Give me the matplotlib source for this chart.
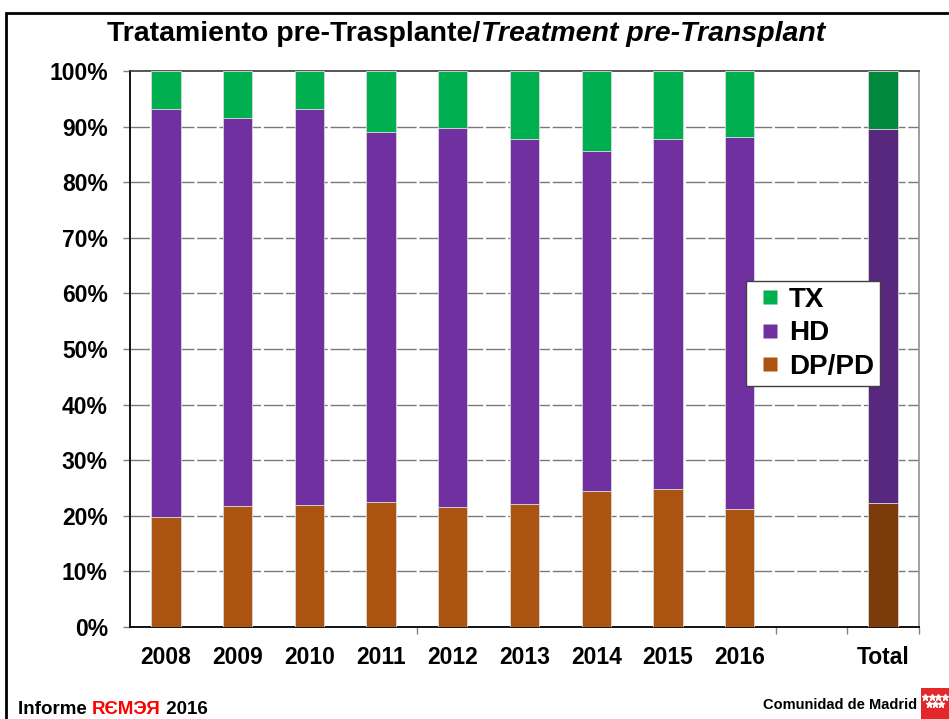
import matplotlib
matplotlib.use("Agg")
import matplotlib.pyplot as plt
import numpy as np
from matplotlib.patches import Rectangle
from matplotlib.lines import Line2D

plt.rcParams['font.family'] = ['Liberation Sans', 'DejaVu Sans']
plt.rcParams['font.weight'] = 'bold'

# --- data (shares of patients by treatment before transplant) ---
categories = ["2008", "2009", "2010", "2011", "2012", "2013", "2014", "2015", "2016", "", "Total"]
dp_pd = [19.7, 21.8, 21.9, 22.4, 21.6, 22.1, 24.5, 24.8, 21.3, 0, 22.3]
hd = [73.5, 69.7, 71.3, 66.7, 68.1, 65.7, 61.1, 63.0, 66.8, 0, 67.3]
tx = [6.8, 8.5, 6.8, 10.9, 10.3, 12.2, 14.4, 12.2, 11.9, 0, 10.4]
y_ticks = [0, 10, 20, 30, 40, 50, 60, 70, 80, 90, 100]

col_tx = ["#00B050"] * 10 + ["#00883C"]
col_hd = ["#7030A0"] * 10 + ["#58277E"]
col_dp = ["#AB5411"] * 10 + ["#7C3B0A"]

W, H = 949, 719
fig = plt.figure(figsize=(W / 100, H / 100), dpi=100)
fig.patch.set_facecolor("white")

ax = fig.add_axes([130 / W, 1 - 627 / H, 789 / W, 556 / H])
x = np.arange(len(categories))
dp = np.array(dp_pd) / 100
hdv = np.array(hd) / 100
txv = np.array(tx) / 100
bw = 0.41
ec = "#d8d8d8"
ax.bar(x, dp, bw, color=col_dp, edgecolor=ec, linewidth=0.6, zorder=3)
ax.bar(x, hdv, bw, bottom=dp, color=col_hd, edgecolor=ec, linewidth=0.6, zorder=3)
ax.bar(x, txv, bw, bottom=dp + hdv, color=col_tx, edgecolor=ec, linewidth=0.6, zorder=3)

ax.set_xlim(-0.5, len(categories) - 0.5)
ax.set_ylim(0, 1)
ax.set_yticks(np.array(y_ticks) / 100)
ax.set_yticklabels([f"{v}%" for v in y_ticks], fontsize=16.5, fontweight="bold")
ax.tick_params(axis="y", length=5, width=1, color="#808080", pad=11)
ax.set_xticks(x)
ax.set_xticklabels(categories, fontsize=16.5, fontweight="bold")
ax.tick_params(axis="x", which="major", length=0, pad=14)
ax.set_xticks([3.5, 8.5, 9.5, 10.5], minor=True)
ax.tick_params(axis="x", which="minor", length=5, width=1, color="#808080")

for v in y_ticks[1:-1]:
    ax.axhline(v / 100, color="#7a7a7a", lw=1, linestyle=(0, (14, 2)), zorder=1)

ax.spines["left"].set_color("black")
ax.spines["left"].set_linewidth(1.3)
ax.spines["bottom"].set_color("black")
ax.spines["bottom"].set_linewidth(1.3)
ax.spines["top"].set_color("#3a3a3a")
ax.spines["top"].set_linewidth(1.2)
ax.spines["right"].set_color("#909090")
ax.spines["right"].set_linewidth(1.2)

# legend with square swatches
handles = [Line2D([], [], linestyle="none", marker="s", markersize=9.5,
                  markerfacecolor=c, markeredgecolor="none", label=l)
           for c, l in [("#00B050", "TX"), ("#7030A0", "HD"), ("#AB5411", "DP/PD")]]
leg = fig.legend(handles=handles, loc="upper left",
                 bbox_to_anchor=(746 / W, 1 - 281 / H),
                 prop={"size": 20, "weight": "bold"},
                 handlelength=1.35, handletextpad=0.0,
                 labelspacing=0.28, borderpad=0.2, borderaxespad=0,
                 fancybox=False, framealpha=1, edgecolor="#404040")
leg.get_frame().set_linewidth(1.0)
leg.set_zorder(10)

# title: upright bold part followed by italic part
renderer = fig.canvas.get_renderer()
ty = 1 - 34 / H
t1 = fig.text(0, ty, "Tratamiento pre-Trasplante/", fontsize=20.5,
              fontweight="bold", va="center", ha="left")
t2 = fig.text(0, ty, "Treatment pre-Transplant", fontsize=20.5,
              fontweight="bold", fontstyle="italic", va="center", ha="left")
w1 = t1.get_window_extent(renderer).width
w2 = t2.get_window_extent(renderer).width
x0 = 466 - (w1 + w2) / 2
t1.set_x(x0 / W)
t2.set_x((x0 + w1) / W)

# footer: report name
fy = 1 - 709 / H
parts = [("Informe ", "black"), ("RЄMЭЯ", "#FF0000"), (" 2016", "black")]
cx = 18
for s, c in parts:
    t = fig.text(cx / W, fy, s, fontsize=13.5, fontweight="bold", color=c,
                 va="center", ha="left")
    cx += t.get_window_extent(renderer).width

fig.text(917 / W, 1 - 705 / H, "Comunidad de Madrid", fontsize=10.5,
         fontweight="bold", va="center", ha="right")

# regional emblem: red square with white stars
lax = fig.add_axes([921 / W, 0, 28 / W, 31 / H])
lax.set_facecolor("#E3272B")
lax.set_xlim(0, 1)
lax.set_ylim(0, 1)
lax.plot([0.15, 0.38, 0.61, 0.84], [0.72] * 4, linestyle="none", marker="*",
         color="white", markersize=5)
lax.plot([0.27, 0.5, 0.73], [0.5] * 3, linestyle="none", marker="*",
         color="white", markersize=5)
lax.set_xticks([])
lax.set_yticks([])
for s in lax.spines.values():
    s.set_visible(False)

# outer frame of the figure
fig.add_artist(Rectangle((5.5 / W, -0.05), 1.1, (1 - 12.5 / H) + 0.05,
                         transform=fig.transFigure, fill=False,
                         edgecolor="black", linewidth=2.0, clip_on=False))

fig.savefig("out.png", dpi=100, facecolor="white")
